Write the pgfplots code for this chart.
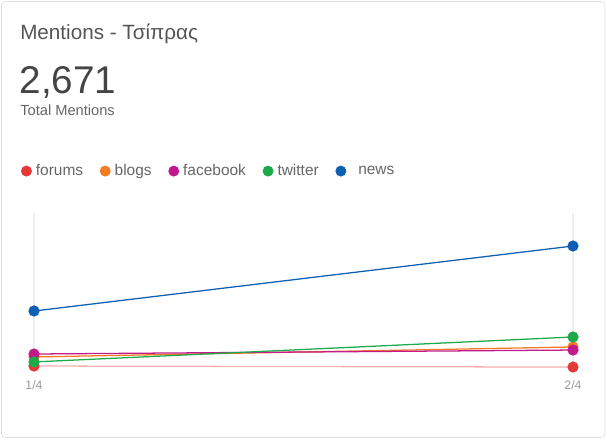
\documentclass[border=0pt]{standalone}
\usepackage{pgfplots}
\pgfplotsset{compat=1.18}
\usepackage{fontspec}
\setmainfont{Liberation Sans}
\definecolor{cforums}{HTML}{E53935}
\definecolor{cblogs}{HTML}{F47B20}
\definecolor{cfacebook}{HTML}{C21A8C}
\definecolor{ctwitter}{HTML}{1DAA4B}
\definecolor{cnews}{HTML}{0C5FB3}
\definecolor{ctitle}{HTML}{555555}
\definecolor{cbig}{HTML}{444444}
\definecolor{csub}{HTML}{666666}
\definecolor{ctick}{HTML}{999999}
\definecolor{cgrid}{HTML}{EEEEEE}
\definecolor{cborder}{HTML}{DDDDDD}

\begin{document}
\begin{tikzpicture}
  \useasboundingbox (0pt,0pt) rectangle (455.25pt,330pt);
  \draw[cborder, rounded corners=3pt] (1.125pt,1.875pt) rectangle (453.75pt,328.875pt);

  \node[anchor=base west, inner sep=0pt, text=ctitle, font=\fontsize{15.5pt}{18pt}\selectfont] at (15pt,300.5pt) {Mentions - Τσίπρας};
  \node[anchor=base west, inner sep=0pt, text=cbig, font=\fontsize{29pt}{34pt}\selectfont] at (14.5pt,259.5pt) {2,671};
  \node[anchor=base west, inner sep=0pt, text=csub, font=\fontsize{11pt}{13pt}\selectfont] at (15pt,243.5pt) {Total Mentions};

  \begin{axis}[
    at={(25.5pt,52.5pt)}, anchor=south west,
    scale only axis,
    width=404.25pt, height=117.75pt,
    xmin=1, xmax=2,
    ymin=0, ymax=1384,
    clip=false,
    axis line style={draw=none},
    xtick={1,2},
    xticklabels={1/4,2/4},
    major tick length=0pt,
    ytick=\empty,
    xmajorgrids,
    major grid style={cgrid, line width=0.8pt},
    xticklabel style={text=ctick, font=\fontsize{9.2pt}{11pt}\selectfont, yshift=-4.5pt},
    every axis plot/.append style={line width=0.95pt, mark=*, mark size=3.7pt, mark options={solid}},
    legend columns=5,
    legend style={
      at={(-0.032,1.267)}, anchor=west,
      draw=none, fill=none,
      font=\fontsize{11.6pt}{13pt}\selectfont,
      text=csub,
      nodes={inner sep=1.5pt},
      /tikz/every even column/.append style={column sep=11pt},
      /tikz/every odd column/.append style={column sep=1.5pt},
    },
    legend image code/.code={\fill[#1] (0pt,0pt) circle (3.6pt);},
  ]
    \addplot[color=cforums!40, mark options={fill=cforums, draw=cforums},
      legend image code/.code={\fill[cforums] (0pt,0pt) circle (3.6pt);}] coordinates {(1,35) (2,26)};
    \addlegendentry{forums}
    \addplot[color=cblogs, mark options={fill=cblogs}] coordinates {(1,115) (2,203)};
    \addlegendentry{blogs}
    \addplot[color=cfacebook, mark options={fill=cfacebook}] coordinates {(1,141) (2,176)};
    \addlegendentry{facebook}
    \addplot[color=ctwitter, mark options={fill=ctwitter}] coordinates {(1,71) (2,291)};
    \addlegendentry{twitter}
    \addplot[color=cnews, mark options={fill=cnews}] coordinates {(1,520) (2,1093)};
    \addlegendentry{\hspace{6pt}news}
  \end{axis}
\end{tikzpicture}
\end{document}
